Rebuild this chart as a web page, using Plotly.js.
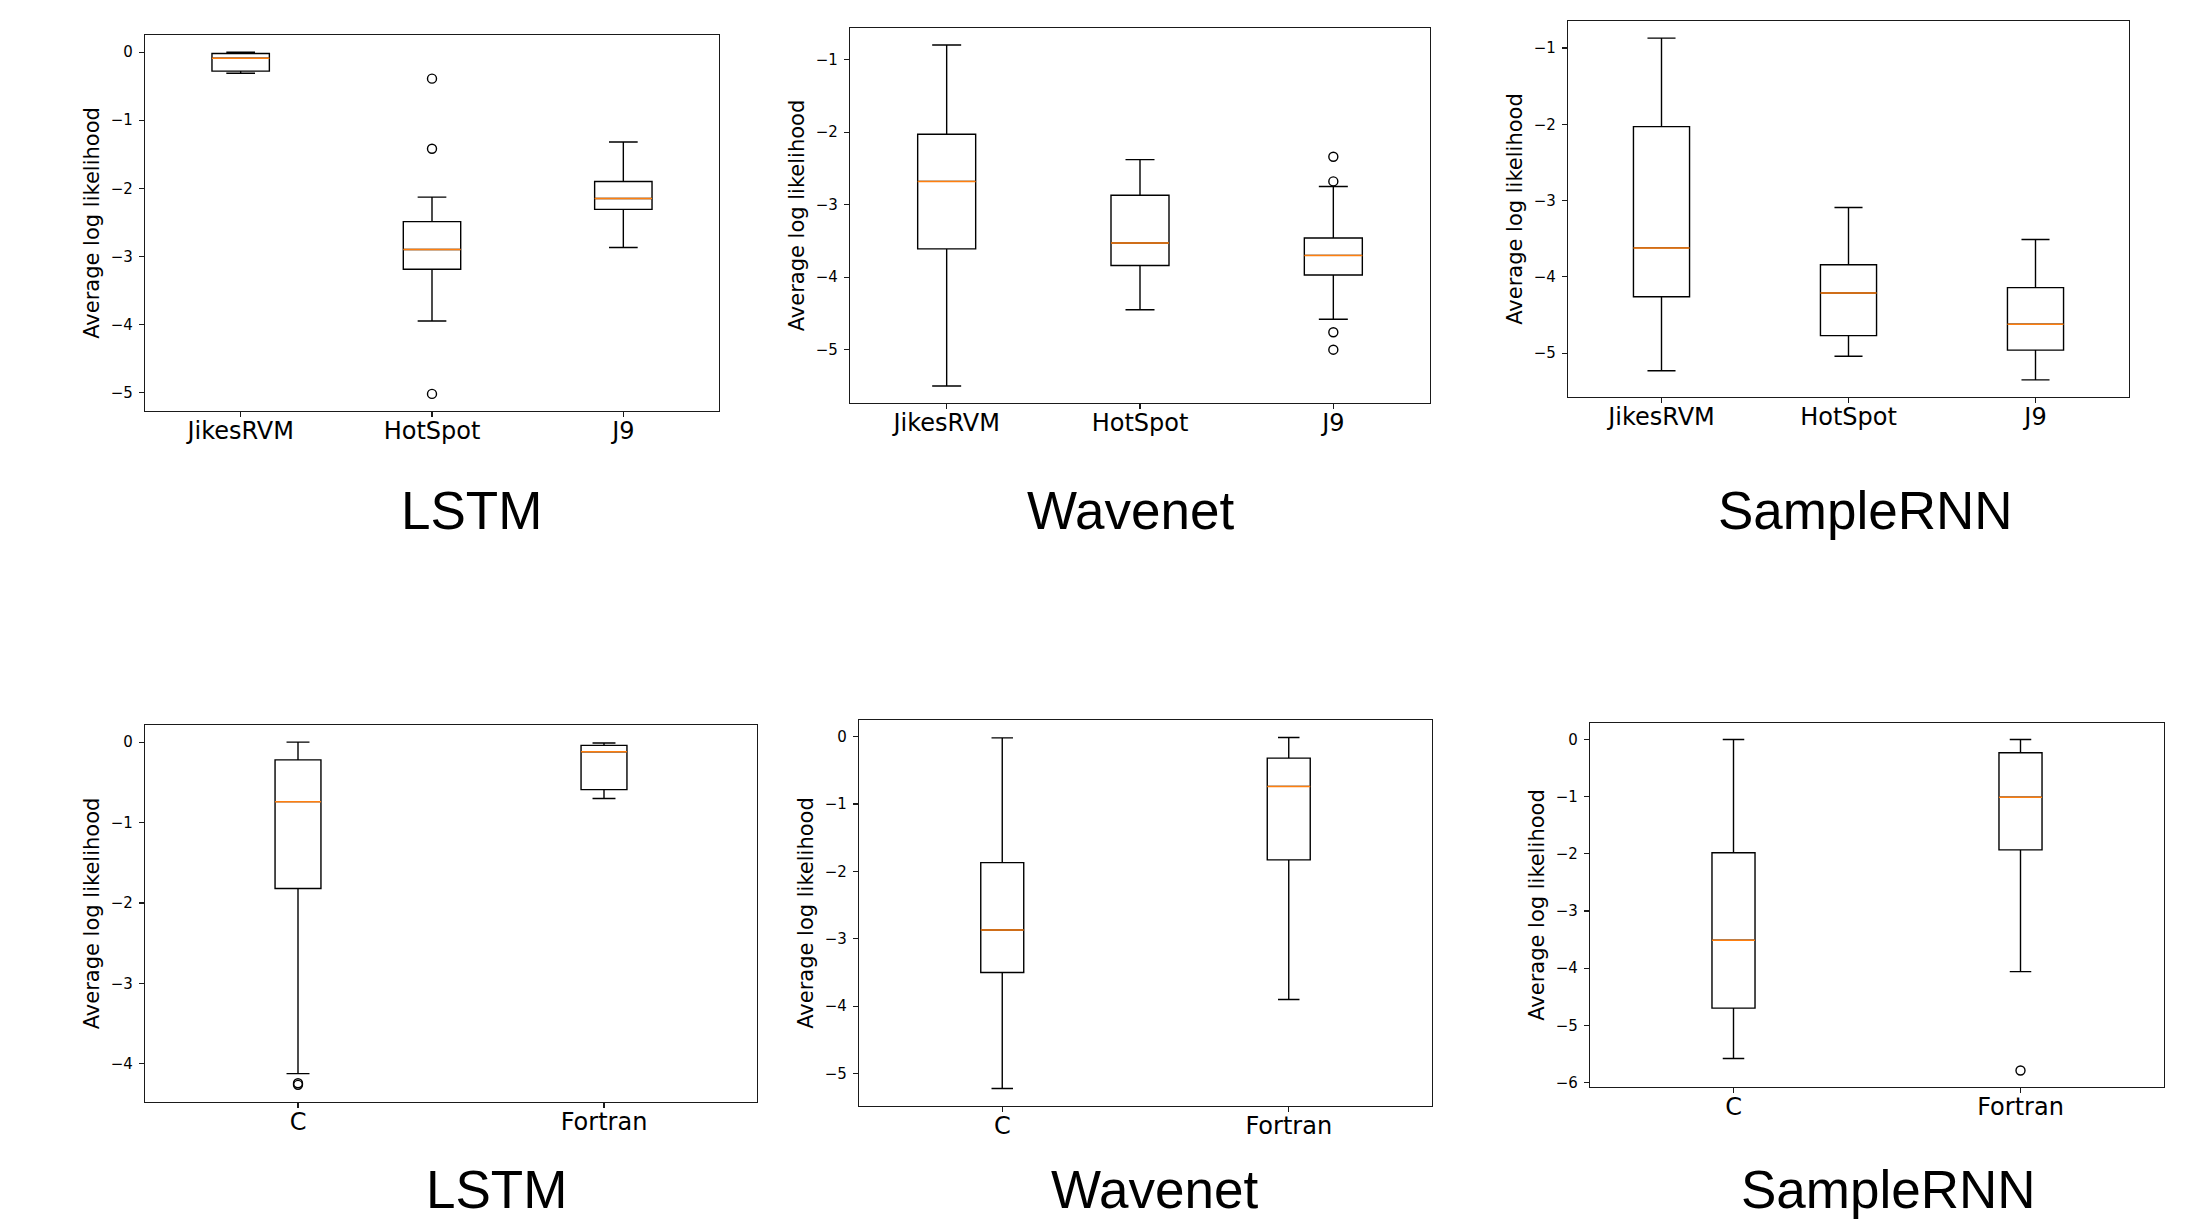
<!DOCTYPE html>
<html>
<head>
<meta charset="utf-8">
<script src="https://cdn.plot.ly/plotly-3.0.1.min.js"></script>
<style>html,body{margin:0;padding:0;background:#fff;}#chart{width:2190px;height:1222px;}</style>
</head>
<body>
<div id="chart"></div>
<script>
// ---------- DATA ----------
const jvmCategories = ['JikesRVM', 'HotSpot', 'J9'];
const langCategories = ['C', 'Fortran'];
const yAxisTitle = 'Average log likelihood';
const panelTitles = ['LSTM', 'Wavenet', 'SampleRNN', 'LSTM', 'Wavenet', 'SampleRNN'];

// LSTM, JVMs
const lstmJvmLow    = [-0.31, -3.95, -2.87];
const lstmJvmQ1     = [-0.28, -3.19, -2.31];
const lstmJvmMedian = [-0.09, -2.90, -2.15];
const lstmJvmQ3     = [-0.02, -2.49, -1.90];
const lstmJvmHigh   = [0.00, -2.13, -1.32];
const lstmJvmOutliers = [[], [-0.39, -1.42, -5.02], []];

// Wavenet, JVMs
const wavenetJvmLow    = [-5.50, -4.45, -4.58];
const wavenetJvmQ1     = [-3.61, -3.84, -3.97];
const wavenetJvmMedian = [-2.68, -3.53, -3.70];
const wavenetJvmQ3     = [-2.03, -2.87, -3.46];
const wavenetJvmHigh   = [-0.80, -2.38, -2.75];
const wavenetJvmOutliers = [[], [], [-2.34, -2.68, -4.76, -5.00]];

// SampleRNN, JVMs
const samplernnJvmLow    = [-5.23, -5.04, -5.35];
const samplernnJvmQ1     = [-4.26, -4.77, -4.96];
const samplernnJvmMedian = [-3.62, -4.21, -4.62];
const samplernnJvmQ3     = [-2.03, -3.84, -4.14];
const samplernnJvmHigh   = [-0.87, -3.09, -3.51];
const samplernnJvmOutliers = [[], [], []];

// LSTM, languages
const lstmLangLow    = [-4.12, -0.70];
const lstmLangQ1     = [-1.82, -0.59];
const lstmLangMedian = [-0.74, -0.12];
const lstmLangQ3     = [-0.22, -0.04];
const lstmLangHigh   = [0.00, -0.01];
const lstmLangOutliers = [[-4.24, -4.26], []];

// Wavenet, languages
const wavenetLangLow    = [-5.22, -3.90];
const wavenetLangQ1     = [-3.50, -1.83];
const wavenetLangMedian = [-2.87, -0.74];
const wavenetLangQ3     = [-1.87, -0.32];
const wavenetLangHigh   = [-0.02, -0.015];
const wavenetLangOutliers = [[], []];

// SampleRNN, languages
const samplernnLangLow    = [-5.58, -4.06];
const samplernnLangQ1     = [-4.70, -1.93];
const samplernnLangMedian = [-3.51, -1.01];
const samplernnLangQ3     = [-1.98, -0.23];
const samplernnLangHigh   = [0.00, 0.00];
const samplernnLangOutliers = [[], [-5.79]];

// ---------- LAYOUT (pixel boxes of the six axes) ----------
const W = 2190, H = 1222;
const boxesPx = [
  [145, 719, 35, 411],
  [850, 1430, 28, 403],
  [1568, 2129, 21, 397],
  [145, 757, 725, 1102],
  [859, 1432, 720, 1106],
  [1590, 2164, 723, 1087]
];
const titlePx = [[471, 510], [1130, 510], [1865, 510], [496, 1189], [1154, 1189], [1888, 1189]];

const panels = [
  {cats: jvmCategories, low: lstmJvmLow, q1: lstmJvmQ1, med: lstmJvmMedian, q3: lstmJvmQ3, high: lstmJvmHigh, out: lstmJvmOutliers},
  {cats: jvmCategories, low: wavenetJvmLow, q1: wavenetJvmQ1, med: wavenetJvmMedian, q3: wavenetJvmQ3, high: wavenetJvmHigh, out: wavenetJvmOutliers},
  {cats: jvmCategories, low: samplernnJvmLow, q1: samplernnJvmQ1, med: samplernnJvmMedian, q3: samplernnJvmQ3, high: samplernnJvmHigh, out: samplernnJvmOutliers},
  {cats: langCategories, low: lstmLangLow, q1: lstmLangQ1, med: lstmLangMedian, q3: lstmLangQ3, high: lstmLangHigh, out: lstmLangOutliers},
  {cats: langCategories, low: wavenetLangLow, q1: wavenetLangQ1, med: wavenetLangMedian, q3: wavenetLangQ3, high: wavenetLangHigh, out: wavenetLangOutliers},
  {cats: langCategories, low: samplernnLangLow, q1: samplernnLangQ1, med: samplernnLangMedian, q3: samplernnLangQ3, high: samplernnLangHigh, out: samplernnLangOutliers}
];

const traces = [];
const layout = {
  width: W, height: H,
  margin: {l: 0, r: 0, t: 0, b: 0},
  paper_bgcolor: '#ffffff', plot_bgcolor: '#ffffff',
  showlegend: false,
  boxmode: 'overlay',
  annotations: []
};

const LINE = '#000000';
const FRAME = '#1a1a1a';
const ORANGE = '#ff7f0e';

panels.forEach((p, k) => {
  const idx = k + 1;
  const xa = 'x' + (idx === 1 ? '' : idx);
  const ya = 'y' + (idx === 1 ? '' : idx);
  const n = p.cats.length;
  const pos = p.cats.map((c, i) => i + 1);
  const bw = Math.min(0.5, 0.15 * (n - 1));

  traces.push({
    type: 'box', orientation: 'v', xaxis: xa, yaxis: ya,
    x: pos, q1: p.q1, median: p.med, q3: p.q3, lowerfence: p.low, upperfence: p.high,
    width: bw, whiskerwidth: 0.5, boxpoints: false,
    line: {color: LINE, width: 1.4}, fillcolor: 'rgba(255,255,255,0)',
    hoverinfo: 'skip', showlegend: false
  });
  traces.push({
    type: 'box', orientation: 'v', xaxis: xa, yaxis: ya,
    x: pos, q1: p.med, median: p.med, q3: p.med, lowerfence: p.med, upperfence: p.med,
    width: bw, whiskerwidth: 0, boxpoints: false,
    line: {color: ORANGE, width: 1.5}, fillcolor: 'rgba(255,255,255,0)',
    hoverinfo: 'skip', showlegend: false
  });
  const ox = [], oy = [];
  p.out.forEach((arr, i) => arr.forEach(v => { ox.push(pos[i]); oy.push(v); }));
  if (oy.length) {
    traces.push({
      type: 'scatter', mode: 'markers', xaxis: xa, yaxis: ya, x: ox, y: oy,
      marker: {symbol: 'circle-open', size: 9, color: LINE, line: {width: 1.4, color: LINE}},
      hoverinfo: 'skip', showlegend: false
    });
  }

  const all = [].concat(p.low, p.high, ...p.out);
  const lo = Math.min(...all), hi = Math.max(...all);
  const pad = 0.05 * (hi - lo);

  const b = boxesPx[k];
  const axCommon = {
    showline: true, mirror: true, linecolor: FRAME, linewidth: 1.2,
    showgrid: false, zeroline: false, ticks: 'outside', ticklen: 5, tickwidth: 1.1,
    tickcolor: FRAME
  };
  layout['xaxis' + (idx === 1 ? '' : idx)] = Object.assign({}, axCommon, {
    anchor: ya, domain: [b[0] / W, b[1] / W],
    range: [0.5, n + 0.5], tickmode: 'array', tickvals: pos, ticktext: p.cats,
    tickfont: {family: 'DejaVu Sans', size: 24, color: '#000'}, ticklabelstandoff: -7
  });
  layout['yaxis' + (idx === 1 ? '' : idx)] = Object.assign({}, axCommon, {
    anchor: xa, domain: [1 - b[3] / H, 1 - b[2] / H],
    range: [lo - pad, hi + pad], tickmode: 'linear', tick0: 0, dtick: 1,
    tickfont: {family: 'DejaVu Sans', size: 15, color: '#000'}, ticklabelstandoff: 3,
    title: {text: yAxisTitle, font: {family: 'DejaVu Sans', size: 21, color: '#000'}, standoff: 5}
  });

  layout.annotations.push({
    text: panelTitles[k], xref: 'paper', yref: 'paper',
    x: titlePx[k][0] / W, y: 1 - titlePx[k][1] / H,
    xanchor: 'center', yanchor: 'middle', showarrow: false,
    font: {family: 'Liberation Sans, Arial, sans-serif', size: 53, color: '#000'}
  });
});

Plotly.newPlot('chart', traces, layout, {staticPlot: true, displayModeBar: false});
</script>
</body>
</html>
